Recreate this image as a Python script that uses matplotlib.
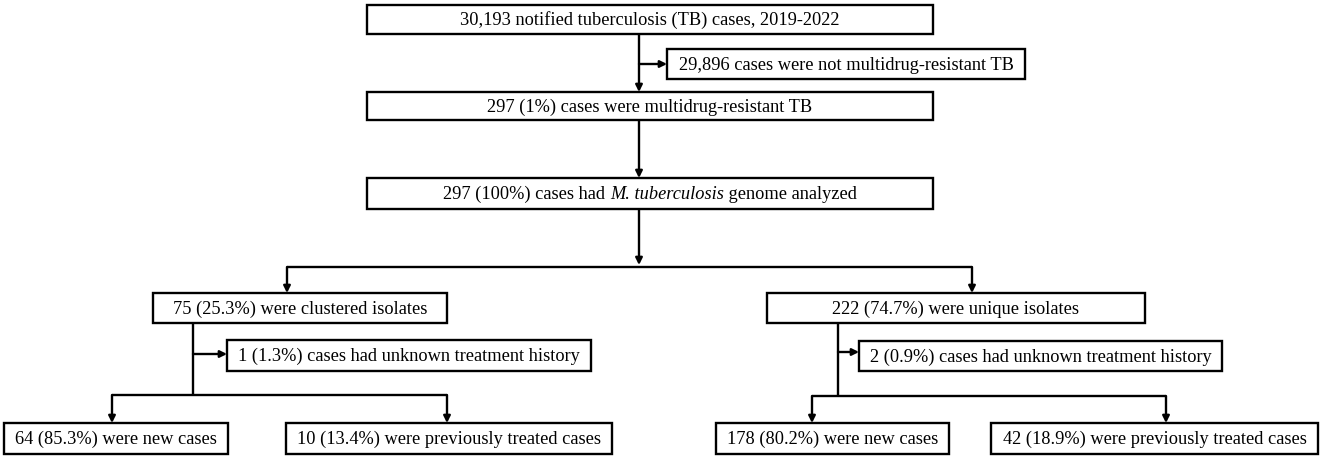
import matplotlib
matplotlib.use("Agg")
import matplotlib.pyplot as plt
from matplotlib.patches import Rectangle

plt.rcParams['font.family'] = ['Liberation Serif', 'DejaVu Serif']

# ---- data ----
total_cases = "30,193"
years = "2019-2022"
not_mdr = "29,896"
mdr_n, mdr_pct = 297, "1%"
genome_n, genome_pct = 297, "100%"
species = "M. tuberculosis"
cluster_n, cluster_pct = 75, "25.3%"
unique_n, unique_pct = 222, "74.7%"
unk_cluster_n, unk_cluster_pct = 1, "1.3%"
unk_unique_n, unk_unique_pct = 2, "0.9%"
new_cluster_n, new_cluster_pct = 64, "85.3%"
prev_cluster_n, prev_cluster_pct = 10, "13.4%"
new_unique_n, new_unique_pct = 178, "80.2%"
prev_unique_n, prev_unique_pct = 42, "18.9%"

# each label is a list of (text, style) pieces
labels = {
    'b1': [(f"{total_cases} notified tuberculosis (TB) cases, {years}", 'normal')],
    'ex1': [(f"{not_mdr} cases were not multidrug-resistant TB", 'normal')],
    'b3': [(f"{mdr_n} ({mdr_pct}) cases were multidrug-resistant TB", 'normal')],
    'b4': [(f"{genome_n} ({genome_pct}) cases had ", 'normal'),
           (species, 'italic'),
           (" genome analyzed", 'normal')],
    'b5': [(f"{cluster_n} ({cluster_pct}) were clustered isolates", 'normal')],
    'b6': [(f"{unique_n} ({unique_pct}) were unique isolates", 'normal')],
    'b7': [(f"{unk_cluster_n} ({unk_cluster_pct}) cases had unknown treatment history", 'normal')],
    'b10': [(f"{unk_unique_n} ({unk_unique_pct}) cases had unknown treatment history", 'normal')],
    'b8': [(f"{new_cluster_n} ({new_cluster_pct}) were new cases", 'normal')],
    'b9': [(f"{prev_cluster_n} ({prev_cluster_pct}) were previously treated cases", 'normal')],
    'b11': [(f"{new_unique_n} ({new_unique_pct}) were new cases", 'normal')],
    'b12': [(f"{prev_unique_n} ({prev_unique_pct}) were previously treated cases", 'normal')],
}

# ---- layout (pixel units, y downward) ----
boxes = {
    'b1': (367, 933, 5, 34),
    'ex1': (667, 1025, 49, 79),
    'b3': (367, 933, 92, 120),
    'b4': (367, 933, 178, 209),
    'b5': (153, 447, 293, 323),
    'b6': (767, 1145, 293, 323),
    'b7': (227, 591, 340, 371),
    'b10': (859, 1222, 341, 371),
    'b8': (4, 228, 423, 454),
    'b9': (286, 612, 423, 454),
    'b11': (716, 949, 423, 454),
    'b12': (991, 1318, 423, 454),
}

W, H = 1325, 459
fig = plt.figure(figsize=(W / 100, H / 100), dpi=100)
ax = fig.add_axes([0, 0, 1, 1])
ax.set_xlim(0, W)
ax.set_ylim(H, 0)
ax.axis('off')

LW = 1.7
FS = 13.2

renderer = fig.canvas.get_renderer()

for key, (x0, x1, y0, y1) in boxes.items():
    ax.add_patch(Rectangle((x0, y0), x1 - x0, y1 - y0, facecolor='white',
                           edgecolor='black', lw=LW, zorder=2))
    pieces = labels[key]
    cy = (y0 + y1) / 2 + 1
    # measure pieces
    arts = []
    widths = []
    for txt, style in pieces:
        t = ax.text(0, cy, txt, ha='left', va='center', fontsize=FS,
                    fontstyle=style, color='black', zorder=3)
        bb = t.get_window_extent(renderer=renderer)
        arts.append(t)
        widths.append(bb.width)
    total = sum(widths)
    xstart = (x0 + x1) / 2 - total / 2
    for t, w in zip(arts, widths):
        t.set_x(xstart)
        xstart += w


def line(xs, ys):
    ax.plot(xs, ys, color='black', lw=LW, solid_capstyle='butt', zorder=1)


def arrow(x0, y0, x1, y1):
    ax.annotate('', xy=(x1, y1), xytext=(x0, y0),
                arrowprops=dict(arrowstyle='-|>', color='black', lw=LW,
                                mutation_scale=10, shrinkA=0, shrinkB=0),
                zorder=1)


# main trunk
arrow(639, 34, 639, 92)
arrow(639, 64, 667, 64)
arrow(639, 120, 639, 178)
arrow(639, 209, 639, 265)
line([287, 972], [267, 267])
arrow(287, 267, 287, 293)
arrow(972, 267, 972, 293)

# left branch
line([193, 193], [323, 395])
arrow(193, 354, 227, 354)
line([112, 447], [395, 395])
arrow(112, 395, 112, 423)
arrow(447, 395, 447, 423)

# right branch
line([838, 838], [323, 396])
arrow(838, 352, 859, 352)
line([812, 1166], [396, 396])
arrow(812, 396, 812, 423)
arrow(1166, 396, 1166, 423)

fig.savefig('out.png', dpi=100, facecolor='white')
